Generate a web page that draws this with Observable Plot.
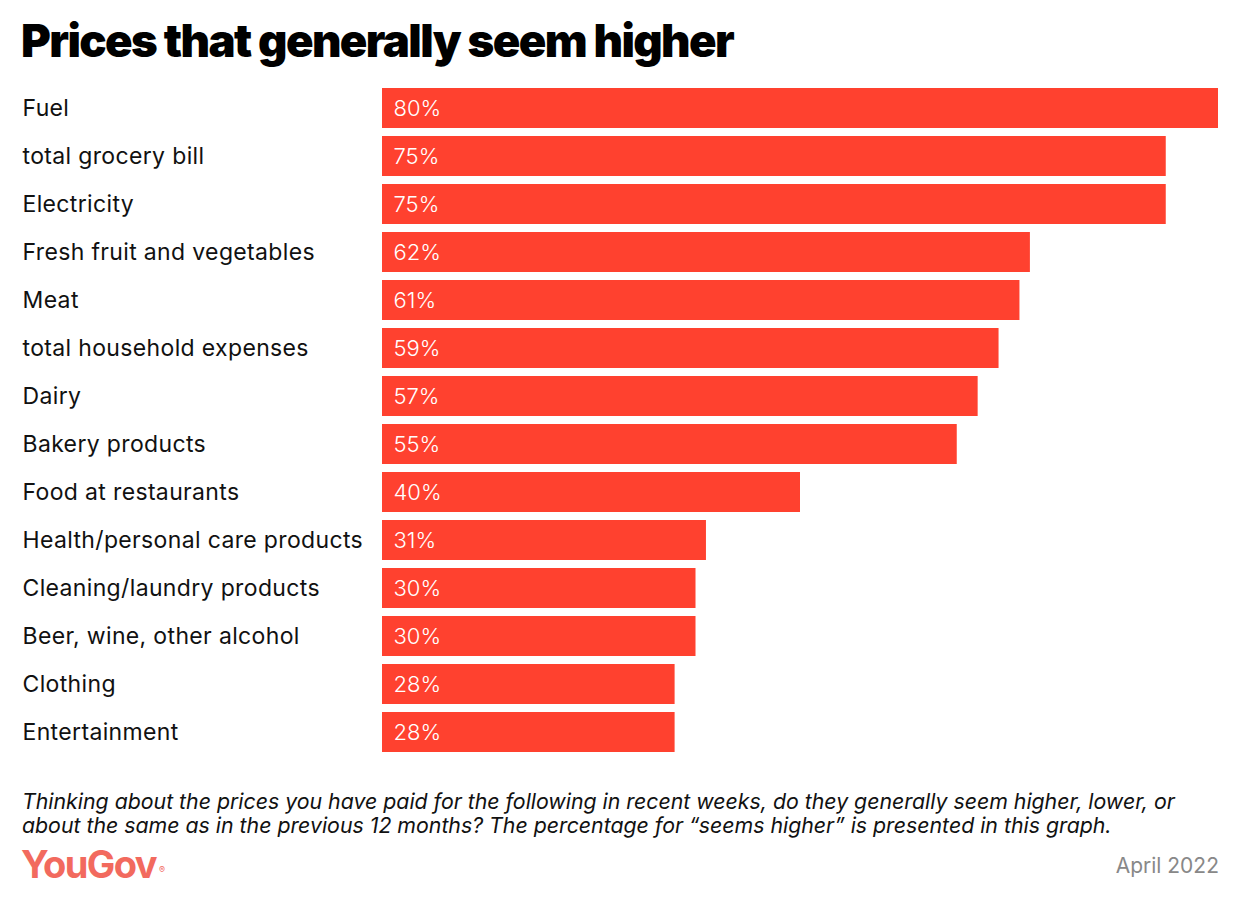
<!DOCTYPE html>
<html>
<head>
<meta charset="utf-8">
<script src="https://cdn.jsdelivr.net/npm/d3@7"></script>
<script src="https://cdn.jsdelivr.net/npm/@observablehq/plot@0.6"></script>
<style>
  html, body { margin: 0; padding: 0; background: #fff; }
  body { width: 1240px; height: 906px; position: relative; overflow: hidden; font-family: Inter, "Noto Sans", sans-serif; }
  #title { position: absolute; left: 21px; top: 13px; font-size: 45.5px; font-weight: 900; letter-spacing: -1.6px; color: #000; line-height: 56px; white-space: nowrap; }
  #chart { position: absolute; left: 0; top: 79px; }
  #caption { position: absolute; left: 22px; top: 789px; font-size: 21.3px; font-style: italic; color: #111; line-height: 24px; white-space: nowrap; }
  #logo { position: absolute; left: 21px; top: 840px; font-size: 38px; font-weight: 700; color: #f26a5e; letter-spacing: -1.6px; line-height: 48px; }
  #logo sup { font-size: 9px; font-weight: 400; letter-spacing: 0; vertical-align: top; position: relative; top: 6px; margin-left: 3px; }
  #date { position: absolute; right: 21px; top: 851px; font-size: 21px; color: #888; line-height: 30px; }
</style>
</head>
<body>
<div id="title">Prices that generally seem higher</div>
<div id="chart"></div>
<div id="caption">Thinking about the prices you have paid for the following in recent weeks, do they generally seem higher, lower, or<br>about the same as in the previous 12 months? The percentage for “seems higher” is presented in this graph.</div>
<div id="logo">YouGov<sup>®</sup></div>
<div id="date">April 2022</div>
<script>
const categories = [
  "Fuel",
  "total grocery bill",
  "Electricity",
  "Fresh fruit and vegetables",
  "Meat",
  "total household expenses",
  "Dairy",
  "Bakery products",
  "Food at restaurants",
  "Health/personal care products",
  "Cleaning/laundry products",
  "Beer, wine, other alcohol",
  "Clothing",
  "Entertainment"
];
const values = [80, 75, 75, 62, 61, 59, 57, 55, 40, 31, 30, 30, 28, 28];

const data = categories.map((c, i) => ({category: c, value: values[i]}));

const chart = Plot.plot({
  width: 1240,
  height: 682,
  marginLeft: 382,
  marginRight: 22,
  marginTop: 0,
  marginBottom: 0,
  style: {fontFamily: "Inter, 'Noto Sans', sans-serif", fontSize: "22px", background: "#fff"},
  x: {domain: [0, 80], axis: null},
  y: {domain: categories, padding: 1/6, label: null},
  marks: [
    Plot.barX(data, {x: "value", y: "category", fill: "#ff412f"}),
    Plot.text(data, {x: 0, y: "category", text: d => `${d.value}%`, textAnchor: "start", dx: 11, fill: "#fff", fontSize: 22, fontWeight: 300}),
    Plot.axisY({tickSize: 0, tickPadding: 0, textAnchor: "start", dx: -360, fill: "#111", fontSize: 23, label: null})
  ]
});
chart.querySelectorAll("[aria-label='y-axis tick label'] text").forEach(t => t.style.letterSpacing = "0.35px");
document.getElementById("chart").appendChild(chart);
</script>
</body>
</html>
